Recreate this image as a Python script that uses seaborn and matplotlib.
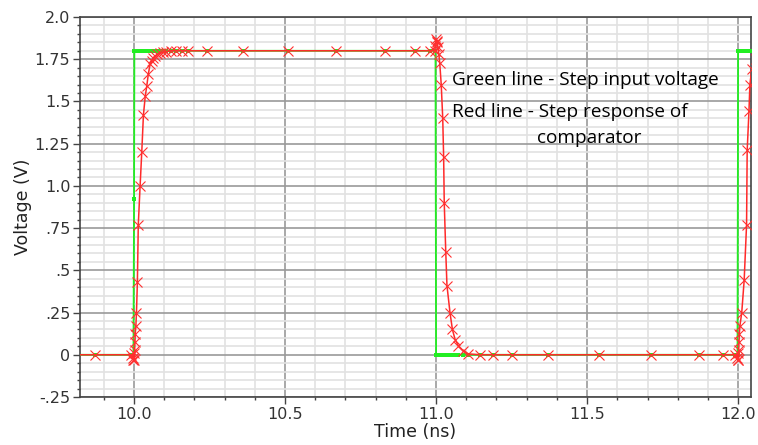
import matplotlib
matplotlib.use("Agg")
import matplotlib.pyplot as plt
import seaborn as sns
import pandas as pd
from matplotlib.ticker import MultipleLocator, FixedLocator

# ---- data ----
time_ns = [9.80, 9.87, 9.99, 9.995, 9.998, 10.0, 10.001, 10.002, 10.003, 10.004,
           10.006, 10.008, 10.011, 10.014, 10.020, 10.0255, 10.031, 10.037, 10.042,
           10.047, 10.053, 10.058, 10.064, 10.070, 10.077, 10.085, 10.095, 10.107,
           10.122, 10.14, 10.16, 10.18, 10.24, 10.36, 10.51, 10.67, 10.83, 10.93,
           10.98, 10.995, 10.998, 11.0, 11.002, 11.004, 11.006, 11.009, 11.012,
           11.017, 11.022, 11.025, 11.027, 11.032, 11.036, 11.046, 11.054, 11.063,
           11.074, 11.09, 11.107, 11.146, 11.19, 11.25, 11.372, 11.54, 11.71, 11.87,
           11.95, 11.99, 11.995, 11.998, 12.0, 12.001, 12.002, 12.003, 12.004,
           12.006, 12.012, 12.020, 12.028, 12.030, 12.036, 12.039, 12.045, 12.06]

red_v = [0.0, 0.0, 0.0, -0.02, -0.03, 0.01, -0.03, 0.03, 0.073, 0.125,
         0.172, 0.25, 0.43, 0.77, 1.0, 1.20, 1.42, 1.53, 1.59,
         1.66, 1.72, 1.74, 1.76, 1.77, 1.78, 1.785, 1.79, 1.795,
         1.80, 1.80, 1.80, 1.80, 1.80, 1.80, 1.80, 1.80, 1.80, 1.80,
         1.80, 1.80, 1.83, 1.87, 1.86, 1.85, 1.82, 1.78, 1.73,
         1.60, 1.40, 1.17, 0.90, 0.61, 0.41, 0.25, 0.15, 0.09,
         0.053, 0.024, 0.005, 0.0, 0.0, 0.0, 0.0, 0.0, 0.0, 0.0,
         0.0, 0.0, -0.02, -0.03, 0.01, -0.03, 0.03, 0.073, 0.123,
         0.172, 0.25, 0.44, 0.77, 1.21, 1.445, 1.60, 1.69, 1.75]

green_v = [0.0, 0.0, 0.0, 0.0, 0.0, 0.92, 1.8, 1.8, 1.8, 1.8,
           1.8, 1.8, 1.8, 1.8, 1.8, 1.8, 1.8, 1.8, 1.8,
           1.8, 1.8, 1.8, 1.8, 1.8, 1.8, 1.8, 1.8, 1.8,
           1.8, 1.8, 1.8, 1.8, 1.8, 1.8, 1.8, 1.8, 1.8, 1.8,
           1.8, 1.8, 1.8, 0.0, 0.0, 0.0, 0.0, 0.0, 0.0,
           0.0, 0.0, 0.0, 0.0, 0.0, 0.0, 0.0, 0.0, 0.0,
           0.0, 0.0, 0.0, 0.0, 0.0, 0.0, 0.0, 0.0, 0.0, 0.0,
           0.0, 0.0, 0.0, 0.0, 1.8, 1.8, 1.8, 1.8, 1.8,
           1.8, 1.8, 1.8, 1.8, 1.8, 1.8, 1.8, 1.8, 1.8]

x_ticks = [10.0, 10.5, 11.0, 11.5, 12.0]
x_tick_labels = ["10.0", "10.5", "11.0", "11.5", "12.0"]
y_ticks = [-0.25, 0.0, 0.25, 0.5, 0.75, 1.0, 1.25, 1.5, 1.75, 2.0]
y_tick_labels = ["-.25", "0", ".25", ".5", ".75", "1.0", "1.25", "1.5", "1.75", "2.0"]

annotation_lines = ["Green line - Step input voltage", "Red line - Step response of", "comparator"]

df = pd.DataFrame({"time": time_ns, "red": red_v, "green": green_v})

sns.set_style("white")
plt.rcParams["font.family"] = ["DejaVu Sans"]

fig = plt.figure(figsize=(7.58, 4.45), dpi=100)
ax = fig.add_axes([80 / 758, 1 - 397 / 445, (750.5 - 80) / 758, (397 - 17) / 445])

# grid
ax.xaxis.set_minor_locator(MultipleLocator(0.1))
ax.yaxis.set_minor_locator(MultipleLocator(0.05))
ax.grid(which="minor", color="#e2e2e2", linewidth=1.2, zorder=0)
ax.grid(which="major", color="#9a9a9a", linewidth=1.2, zorder=0)
ax.set_axisbelow(True)

sns.lineplot(data=df, x="time", y="green", ax=ax, color="#22ee22", linewidth=1.3,
             marker="s", markersize=2.5, markeredgewidth=0, sort=False, estimator=None, zorder=3)
sns.lineplot(data=df, x="time", y="red", ax=ax, color="#ff2a2a", linewidth=1.1,
             marker="x", markersize=7.5, markeredgewidth=0.8, markeredgecolor="#ff3030",
             sort=False, estimator=None, zorder=4)

ax.set_xlim(9.821, 12.041)
ax.set_ylim(-0.25, 2.0)
ax.xaxis.set_major_locator(FixedLocator(x_ticks))
ax.set_xticklabels(x_tick_labels)
ax.yaxis.set_major_locator(FixedLocator(y_ticks))
ax.set_yticklabels(y_tick_labels)

ax.tick_params(axis="both", which="major", direction="out", length=5, width=1,
               color="#444444", labelsize=11.5, labelcolor="#333333", pad=2,
               left=True, bottom=True)
ax.tick_params(axis="both", which="minor", direction="out", length=2.5, width=1,
               color="#444444", left=True, bottom=True)

for s in ax.spines.values():
    s.set_color("#444444")
    s.set_linewidth(1.2)

ax.set_xlabel("Time (ns)", fontsize=12.5, color="#222222", labelpad=1)
ax.set_ylabel("Voltage (V)", fontsize=12.5, color="#222222", labelpad=2)

ax.text(452 / 758, 1 - 80 / 445, annotation_lines[0], transform=fig.transFigure,
        ha="left", va="center", fontsize=13.7, family="Open Sans", color="black")
ax.text(452 / 758, 1 - 112 / 445, annotation_lines[1], transform=fig.transFigure,
        ha="left", va="center", fontsize=13.7, family="Open Sans", color="black")
ax.text(589 / 758, 1 - 138 / 445, annotation_lines[2], transform=fig.transFigure,
        ha="center", va="center", fontsize=13.7, family="Open Sans", color="black")

fig.savefig("out.png", dpi=100)
